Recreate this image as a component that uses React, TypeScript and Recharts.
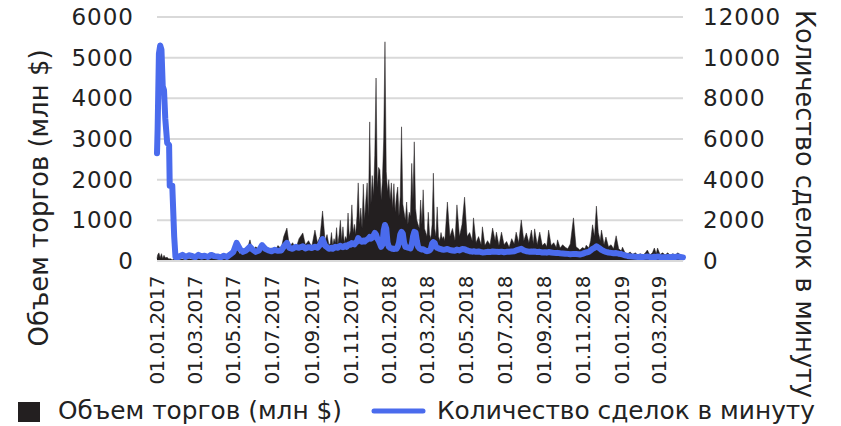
import { ComposedChart, Area, Line, XAxis, YAxis, CartesianGrid } from "recharts";

const FONT = "'DejaVu Sans', sans-serif";
const INK = "#231f20";
const BLUE = "#4a6bed";
const GRID = "#d9d9d9";

// days since 01.01.2017
const days = [
  0, 1, 3, 5, 7, 9, 11, 13, 16, 19, 20, 24, 27, 29, 31,
  35, 40, 45, 50, 55, 60, 65, 70, 75, 80, 85, 90, 95, 100, 105, 110, 115, 120, 125, 130,
  135, 140, 146, 150, 155, 160, 165, 170, 175, 180, 185, 190, 195, 199, 204, 208, 213, 218, 223, 229,
  233, 238, 243, 248, 252, 256, 260, 264, 267, 270,
  272, 274, 276, 278, 280, 282, 284, 286, 288, 290, 292, 294, 296, 298, 300, 302, 304, 306, 308, 310,
  312, 314, 316, 318, 320, 322, 324, 326, 328, 330, 332, 334, 336, 338, 340, 342, 344, 346, 348, 350,
  352, 354, 356, 358, 360, 362, 364, 366, 368, 370, 372, 374, 376, 378, 380, 382, 384, 386, 388, 390,
  392, 394, 396, 398, 400, 402, 404, 406, 408, 410, 412, 414, 416, 418, 420, 422, 424, 426, 428, 430,
  432, 434, 436, 438, 440, 442, 444, 446, 448, 450,
  452, 456, 460, 464, 468, 471, 475, 479, 483, 487, 491, 495, 497, 501, 505, 509, 511, 515, 519, 523,
  527, 531, 533, 537, 541, 545, 549, 553, 557, 561, 564, 568, 572, 576, 580, 584, 588, 591, 593, 597,
  601, 605, 609, 612, 615, 619, 623, 627, 629, 633, 637, 641, 645, 649, 654, 658, 662, 664, 668, 672,
  674, 678, 681, 684, 687, 690, 693, 696, 698, 702, 705, 709, 713, 717, 721, 725, 729, 731, 735, 739,
  743, 747, 751, 755, 759, 763, 767, 770, 774, 778, 781, 784, 786, 790, 794, 798, 802, 806, 810, 814,
  818, 822, 826,
];

// Объем торгов, млн $
const volume = [
  60, 150, 200, 80, 180, 60, 140, 80, 90, 40, 60, 30, 50, 20, 30,
  40, 50, 30, 60, 40, 50, 70, 40, 60, 50, 80, 60, 90, 70, 120, 90, 150, 200, 300, 180,
  250, 200, 520, 250, 350, 280, 400, 300, 220, 320, 250, 380, 300, 600, 810, 350, 450, 300, 550, 690,
  400, 500, 350, 760, 450, 600, 1230, 500, 650, 400,
  420, 700, 380, 550, 450, 820, 400, 650, 1000, 500, 840, 450, 600, 520, 1180, 600, 750, 1380, 700, 900,
  650, 1100, 1920, 900, 1300, 800, 1890, 1000, 1500, 1920, 1100, 3420, 1400, 2100, 1600, 2600, 4500, 1800, 2300, 2240,
  1500, 2000, 3000, 5390, 2200, 1700, 2000, 1500, 1920, 1300, 1900, 1200, 1600, 1820, 1100, 1600, 3300, 1400, 1200, 1000,
  1450, 900, 1200, 1100, 2400, 1500, 2930, 1300, 1000, 900, 800, 1500, 900, 1750, 800, 700, 600, 1200, 650, 550,
  900, 2160, 800, 600, 1330, 600, 500, 700, 550, 600,
  500, 1450, 600, 800, 500, 1380, 600, 900, 1570, 600, 700, 500, 1060, 450, 600, 400, 840, 380, 500, 400,
  810, 500, 710, 380, 710, 400, 480, 340, 550, 420, 710, 450, 1010, 500, 690, 450, 760, 420, 790, 400,
  710, 380, 440, 350, 760, 380, 450, 330, 520, 320, 400, 340, 300, 420, 1060, 350, 300, 270, 330, 300,
  390, 320, 500, 890, 600, 1350, 700, 500, 760, 400, 590, 350, 400, 300, 620, 300, 250, 340, 200, 180,
  220, 160, 200, 150, 180, 140, 200, 270, 150, 200, 320, 180, 320, 160, 200, 150, 200, 140, 180, 150,
  200, 150, 120,
];

// Количество сделок в минуту
const trades = [
  5300, 6500, 10200, 10600, 10400, 8600, 8400, 7000, 5800, 5700, 3700, 3700, 1200, 200, 150,
  220, 300, 200, 280, 250, 180, 300, 220, 260, 200, 300, 240, 220, 180, 260, 200, 320, 450, 890, 600,
  450, 520, 700, 560, 450, 520, 780, 600, 520, 480, 550, 500, 520, 700, 890, 650, 600, 700, 650, 720,
  620, 680, 640, 700, 650, 800, 1080, 750, 680, 600,
  620, 650, 600, 640, 700, 680, 650, 720, 750, 700, 680, 720, 760, 700, 780, 820, 800, 880, 850, 820,
  900, 950, 1130, 1050, 980, 950, 1000, 960, 1020, 1050, 1100, 1180, 1100, 1150, 1250, 1380, 1300, 1100, 1000, 850,
  700, 800, 1500, 1770, 1600, 900, 700, 650, 620, 600, 590, 620, 600, 700, 900, 1300, 1430, 1350, 900, 700,
  680, 660, 640, 620, 800, 1200, 1430, 1400, 1000, 700, 620, 590, 560, 580, 540, 500, 480, 500, 520, 600,
  850, 930, 880, 700, 650, 620, 600, 580, 560, 550,
  560, 590, 540, 520, 500, 560, 520, 590, 580, 520, 480, 460, 480, 450, 470, 440, 420, 430, 450, 440,
  470, 460, 450, 440, 460, 430, 450, 460, 470, 480, 520, 560, 600, 520, 480, 460, 470, 450, 470, 440,
  450, 420, 430, 410, 440, 420, 400, 390, 400, 380, 370, 360, 350, 330, 350, 340, 330, 320, 350, 400,
  420, 450, 520, 600, 650, 720, 660, 600, 550, 480, 450, 420, 400, 380, 390, 360, 340, 320, 280, 250,
  230, 220, 210, 200, 210, 200, 210, 220, 200, 190, 210, 200, 220, 200, 190, 180, 200, 190, 210, 200,
  220, 200, 180,
];

const tickDays = [0, 59, 120, 181, 243, 304, 365, 424, 485, 546, 608, 669, 730, 789];
const tickLabels = [
  "01.01.2017", "01.03.2017", "01.05.2017", "01.07.2017", "01.09.2017", "01.11.2017", "01.01.2018",
  "01.03.2018", "01.05.2018", "01.07.2018", "01.09.2018", "01.11.2018", "01.01.2019", "01.03.2019",
];
const volumeTicks = [0, 1000, 2000, 3000, 4000, 5000, 6000];
const tradesTicks = [0, 2000, 4000, 6000, 8000, 10000, 12000];

const data = days.map((day, i) => ({ day, volume: volume[i], trades: trades[i] }));

function DateTick({ x, y, payload }: any) {
  const i = tickDays.indexOf(payload.value);
  const ty = y + 7;
  return (
    <text
      x={x}
      y={ty}
      transform={`rotate(-90 ${x} ${ty})`}
      textAnchor="end"
      dominantBaseline="central"
      fontSize={20}
      fontFamily={FONT}
      letterSpacing={-0.6}
      fill="#222"
    >
      {tickLabels[i]}
    </text>
  );
}

// axis titles sit at fixed spots, like the original
function LeftTitle() {
  return (
    <text
      x={38}
      y={198}
      transform="rotate(-90 38 198)"
      textAnchor="middle"
      dominantBaseline="central"
      fontSize={27}
      fontFamily={FONT}
      fill="#222"
      textLength={297}
      lengthAdjust="spacingAndGlyphs"
    >
      Объем торгов (млн $)
    </text>
  );
}

function RightTitle() {
  return (
    <text
      x={805}
      y={204}
      transform="rotate(90 805 204)"
      textAnchor="middle"
      dominantBaseline="central"
      fontSize={27}
      fontFamily={FONT}
      fill="#222"
      textLength={388}
      lengthAdjust="spacingAndGlyphs"
    >
      Количество сделок в минуту
    </text>
  );
}

const tickStyle = { fontSize: 23, fontFamily: FONT, fill: "#222", letterSpacing: 1 };

export default function App() {
  return (
    <div style={{ position: "absolute", left: 0, top: 0, width: 841, height: 426, background: "#fff" }}>
      <ComposedChart width={841} height={426} data={data} margin={{ top: 17, right: 0, bottom: 0, left: 0 }}>
        <CartesianGrid vertical={false} yAxisId="left" stroke={GRID} strokeWidth={2} />
        <XAxis
          dataKey="day"
          type="number"
          domain={[0, 826]}
          ticks={tickDays}
          interval={0}
          tick={<DateTick />}
          tickLine={false}
          axisLine={{ stroke: GRID, strokeWidth: 2 }}
          height={165}
        />
        <YAxis
          yAxisId="left"
          domain={[0, 6000]}
          ticks={volumeTicks}
          width={157}
          axisLine={false}
          tickLine={false}
          tickMargin={17}
          tick={tickStyle}
          label={<LeftTitle />}
        />
        <YAxis
          yAxisId="right"
          orientation="right"
          domain={[0, 12000]}
          ticks={tradesTicks}
          width={158}
          axisLine={false}
          tickLine={false}
          tickMargin={14}
          tick={tickStyle}
          label={<RightTitle />}
        />
        <Area
          yAxisId="left"
          type="linear"
          dataKey="volume"
          fill={INK}
          fillOpacity={1}
          stroke={INK}
          strokeWidth={0.5}
          isAnimationActive={false}
        />
        <Line
          yAxisId="right"
          type="linear"
          dataKey="trades"
          stroke={BLUE}
          strokeWidth={6}
          strokeLinejoin="round"
          strokeLinecap="round"
          dot={false}
          isAnimationActive={false}
        />
      </ComposedChart>

      {/* legend */}
      <svg width={841} height={426} style={{ position: "absolute", left: 0, top: 0, pointerEvents: "none" }}>
        <rect x={18} y={402} width={22} height={20} fill={INK} />
        <text x={58} y={419} fontSize={25} fontFamily={FONT} fill="#222" textLength={284} lengthAdjust="spacingAndGlyphs">
          Объем торгов (млн $)
        </text>
        <line x1={374} y1={411} x2={423} y2={411} stroke={BLUE} strokeWidth={5} strokeLinecap="round" />
        <text x={437} y={419} fontSize={25} fontFamily={FONT} fill="#222" textLength={378} lengthAdjust="spacingAndGlyphs">
          Количество сделок в минуту
        </text>
      </svg>
    </div>
  );
}
